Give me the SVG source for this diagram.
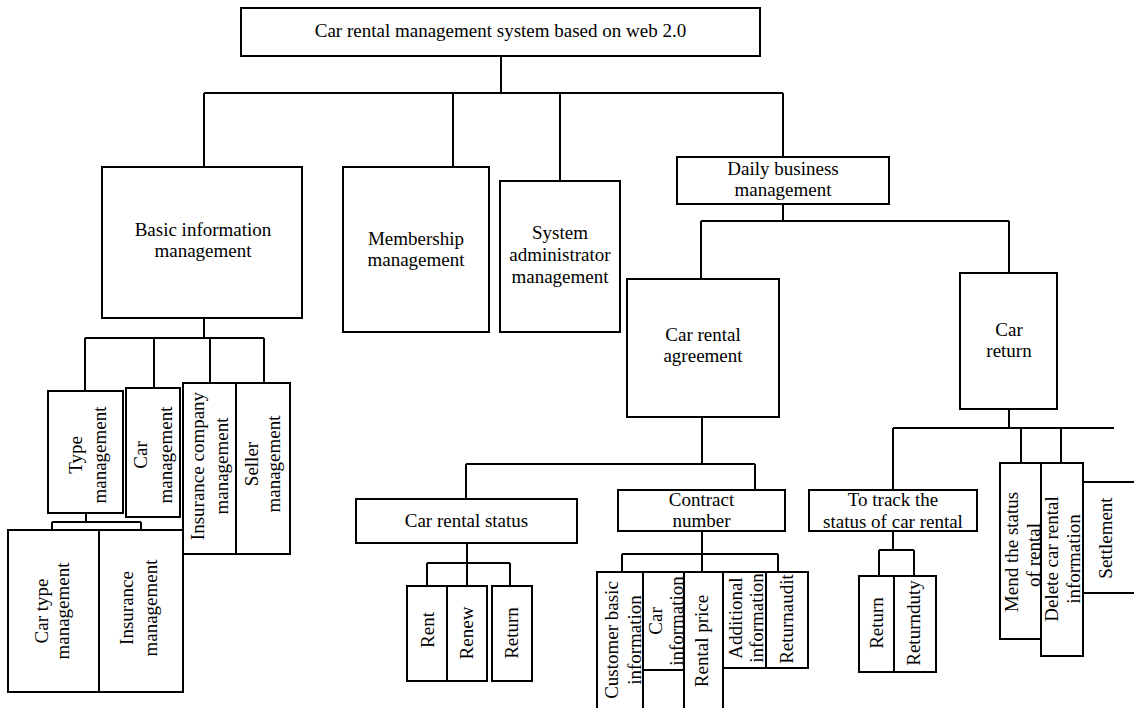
<svg xmlns="http://www.w3.org/2000/svg" width="1134" height="708" viewBox="0 0 1134 708">
<style>
rect{fill:#fff;stroke:#000;stroke-width:2}
.c path{fill:none;stroke:#000;stroke-width:2}
text{font-family:"Liberation Serif","Times New Roman",serif;font-size:19px;fill:#000;text-anchor:middle}
</style>
<rect x="0" y="0" width="1134" height="708" style="stroke:none"/>
<g class="c" id="connectors">
<path d="M501,56V93M204,93H783M204,93V167M453,93V167M560,93V181M783,93V157"/>
<path d="M204,318V338M85,338H264M85,338V391M154,338V388M210,338V383M264,338V383"/>
<path d="M86,513V522M52,522H141M52,522V530M141,522V530"/>
<path d="M783,204V221M701,221H1009M701,221V279M1009,221V273"/>
<path d="M702,417V464M466,464H755M466,464V499M755,464V490"/>
<path d="M467,543V563M427,563H510M427,563V586M467,563V586M510,563V586"/>
<path d="M702,531V572M622,554H778M622,554V572M778,554V572"/>
<path d="M1009,409V428M893,428H1114M893,428V490M1021,428V463M1061,428V463"/>
<path d="M893,531V550M879,550H914M879,550V576M914,550V576"/>
</g>
<g id="n-root"><rect x="241" y="8" width="519" height="48"/><text x="500.5" y="37">Car rental management system based on web 2.0</text></g>
<g id="n-basic"><rect x="102" y="167" width="200" height="151"/><text><tspan x="203" y="236">Basic information</tspan><tspan x="203" y="257">management</tspan></text></g>
<g id="n-member"><rect x="343" y="167" width="146" height="165"/><text><tspan x="416" y="245">Membership</tspan><tspan x="416" y="266">management</tspan></text></g>
<g id="n-sysadmin"><rect x="500" y="181" width="120" height="151"/><text><tspan x="560" y="239">System</tspan><tspan x="560" y="261">administrator</tspan><tspan x="560" y="283">management</tspan></text></g>
<g id="n-daily"><rect x="677" y="157" width="212" height="47"/><text><tspan x="783" y="175">Daily business</tspan><tspan x="783" y="196">management</tspan></text></g>
<g id="n-agreement"><rect x="627" y="279" width="152" height="138"/><text><tspan x="703" y="341">Car rental</tspan><tspan x="703" y="362">agreement</tspan></text></g>
<g id="n-carreturn"><rect x="960" y="273" width="97" height="136"/><text><tspan x="1009" y="336">Car</tspan><tspan x="1009" y="357">return</tspan></text></g>
<g id="n-type"><rect x="48" y="391" width="75" height="122"/><text transform="translate(82,455) rotate(-90)"><tspan x="0" y="0">Type</tspan><tspan x="0" y="24">management</tspan></text></g>
<g id="n-car"><rect x="126" y="388" width="54" height="129"/><text transform="translate(147,455) rotate(-90)"><tspan x="0" y="0">Car</tspan><tspan x="0" y="25">management</tspan></text></g>
<g id="n-inscompany"><rect x="183" y="383" width="53" height="171"/><text transform="translate(204,466) rotate(-90)"><tspan x="0" y="0">Insurance company</tspan><tspan x="0" y="24">management</tspan></text></g>
<g id="n-seller"><rect x="236" y="383" width="54" height="171"/><text transform="translate(258,464) rotate(-90)"><tspan x="0" y="0">Seller</tspan><tspan x="0" y="22">management</tspan></text></g>
<g id="n-cartype"><rect x="8" y="530" width="91" height="162"/><text transform="translate(48,611) rotate(-90)"><tspan x="0" y="0">Car type</tspan><tspan x="0" y="21">management</tspan></text></g>
<g id="n-insmgmt"><rect x="99" y="530" width="84" height="162"/><text transform="translate(133,608) rotate(-90)"><tspan x="0" y="0">Insurance</tspan><tspan x="0" y="24">management</tspan></text></g>
<g id="n-status"><rect x="356" y="499" width="221" height="44"/><text x="466.5" y="527">Car rental status</text></g>
<g id="n-contract"><rect x="618" y="490" width="167" height="41"/><text><tspan x="701.5" y="506">Contract</tspan><tspan x="701.5" y="527">number</tspan></text></g>
<g id="n-rent"><rect x="407" y="586" width="40" height="95"/><text transform="translate(434,630) rotate(-90)">Rent</text></g>
<g id="n-renew"><rect x="447" y="586" width="40" height="95"/><text transform="translate(473,633) rotate(-90)">Renew</text></g>
<g id="n-return1"><rect x="492" y="586" width="40" height="95"/><text transform="translate(518,633) rotate(-90)">Return</text></g>
<g id="n-customer"><rect x="597" y="572" width="46" height="142"/><text transform="translate(618,640) rotate(-90)"><tspan x="0" y="0">Customer basic</tspan><tspan x="0" y="23">information</tspan></text></g>
<g id="n-carinfo"><rect x="643" y="572" width="41" height="98"/><text transform="translate(662,621) rotate(-90)"><tspan x="0" y="0">Car</tspan><tspan x="0" y="21">information</tspan></text></g>
<g id="n-price"><rect x="684" y="572" width="39" height="142"/><text transform="translate(708,641) rotate(-90)">Rental price</text></g>
<g id="n-additional"><rect x="723" y="572" width="43" height="96"/><text transform="translate(742,618) rotate(-90)"><tspan x="0" y="0">Additional</tspan><tspan x="0" y="21">information</tspan></text></g>
<g id="n-returnaudit"><rect x="766" y="572" width="42" height="96"/><text transform="translate(793,619) rotate(-90)">Returnaudit</text></g>
<g id="n-track"><rect x="809" y="490" width="168" height="41"/><text><tspan x="893" y="506">To track the</tspan><tspan x="893" y="528">status of car rental</tspan></text></g>
<g id="n-return2"><rect x="859" y="576" width="35" height="96"/><text transform="translate(883,623) rotate(-90)">Return</text></g>
<g id="n-returnduty"><rect x="894" y="576" width="42" height="96"/><text transform="translate(920,623) rotate(-90)">Returnduty</text></g>
<g id="n-mend"><rect x="1000" y="463" width="41" height="176"/><text transform="translate(1018,552) rotate(-90)"><tspan x="0" y="0">Mend the status</tspan><tspan x="-3" y="22">of rental</tspan></text></g>
<g id="n-delete"><rect x="1041" y="463" width="42" height="193"/><text transform="translate(1058,559) rotate(-90)"><tspan x="0" y="0">Delete car rental</tspan><tspan x="0" y="22">information</tspan></text></g>
<g id="n-settlement"><rect x="1083" y="482" width="60" height="111"/><text transform="translate(1112,538) rotate(-90)">Settlement</text></g>
</svg>
